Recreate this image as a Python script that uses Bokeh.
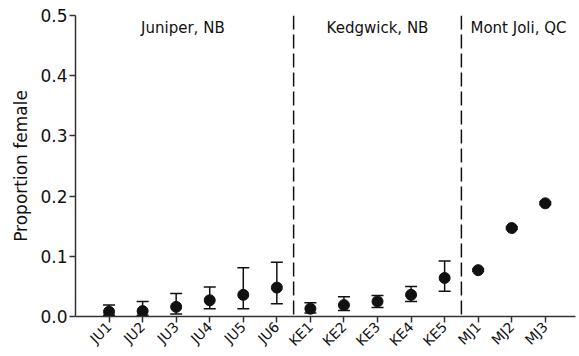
import math
from bokeh.plotting import figure
from bokeh.models import ColumnDataSource, Whisker, TeeHead, FixedTicker, PrintfTickFormatter, Span
from bokeh.core.properties import value
from bokeh.embed import file_html
from bokeh.resources import INLINE

sites = ["JU1", "JU2", "JU3", "JU4", "JU5", "JU6",
         "KE1", "KE2", "KE3", "KE4", "KE5",
         "MJ1", "MJ2", "MJ3"]
proportion = [0.008, 0.009, 0.016, 0.027, 0.036, 0.048,
              0.013, 0.019, 0.025, 0.036, 0.064,
              0.077, 0.147, 0.188]
lower = [0.002, 0.002, 0.004, 0.013, 0.013, 0.021,
         0.006, 0.010, 0.015, 0.025, 0.042,
         0.075, 0.145, 0.186]
upper = [0.019, 0.025, 0.038, 0.049, 0.081, 0.090,
         0.023, 0.033, 0.035, 0.050, 0.092,
         0.079, 0.149, 0.190]
groups = ["Juniper, NB", "Kedgwick, NB", "Mont Joli, QC"]
group_x = [3.2, 9.0, 13.2]
group_y = [0.479, 0.479, 0.479]
dividers = [6.5, 11.5]
y_ticks = [0.0, 0.1, 0.2, 0.3, 0.4, 0.5]

FONT = "DejaVu Sans"
INK = "#111111"

xs = list(range(1, len(sites) + 1))
src = ColumnDataSource(dict(x=xs, y=proportion, lo=lower, hi=upper))

p = figure(frame_width=500, frame_height=301, output_backend="svg", toolbar_location=None,
           x_range=(0, 14.9), y_range=(0, 0.5),
           min_border_left=75, min_border_right=2, min_border_top=15, min_border_bottom=0)
p.outline_line_color = None
p.grid.visible = False
p.background_fill_color = "white"
p.border_fill_color = "white"

for d in dividers:
    p.add_layout(Span(location=d, dimension="height", line_color=INK,
                      line_width=1.5, line_dash="14 5"))

w = Whisker(source=src, base="x", lower="lo", upper="hi",
            line_color=INK, line_width=1.5,
            upper_head=TeeHead(size=12, line_color=INK, line_width=1.5),
            lower_head=TeeHead(size=12, line_color=INK, line_width=1.5))
p.add_layout(w)

p.scatter("x", "y", source=src, size=11, color=INK)

p.text(x=group_x, y=group_y, text=groups, text_font=value(FONT),
       text_font_size="15px", text_align="center", text_baseline="middle",
       text_color=INK)

# y axis
p.yaxis.ticker = FixedTicker(ticks=y_ticks)
p.yaxis.formatter = PrintfTickFormatter(format="%.1f")
p.yaxis.axis_label = "Proportion female"
p.yaxis.axis_label_text_font = FONT
p.yaxis.axis_label_text_font_style = "normal"
p.yaxis.axis_label_text_font_size = "17px"
p.yaxis.axis_label_text_color = INK
p.yaxis.axis_label_standoff = 6
p.yaxis.major_label_text_font = FONT
p.yaxis.major_label_text_font_size = "17px"
p.yaxis.major_label_text_color = INK
p.yaxis.major_label_standoff = 2
p.yaxis.major_tick_in = 0
p.yaxis.major_tick_out = 6
p.yaxis.minor_tick_line_color = None

# x axis
p.xaxis.ticker = FixedTicker(ticks=xs)
p.xaxis.major_label_overrides = {x: s for x, s in zip(xs, sites)}
p.xaxis.major_label_orientation = math.pi / 4
p.xaxis.major_label_text_font = FONT
p.xaxis.major_label_text_font_size = "14px"
p.xaxis.major_label_text_color = INK
p.xaxis.major_label_standoff = 2
p.xaxis.major_tick_in = 0
p.xaxis.major_tick_out = 6
p.xaxis.minor_tick_line_color = None

for ax in (p.xaxis, p.yaxis):
    ax.axis_line_color = "#333333"
    ax.axis_line_width = 1.5
    ax.major_tick_line_color = "#333333"
    ax.major_tick_line_width = 1.5

open("out.html", "w").write(file_html(p, INLINE))
